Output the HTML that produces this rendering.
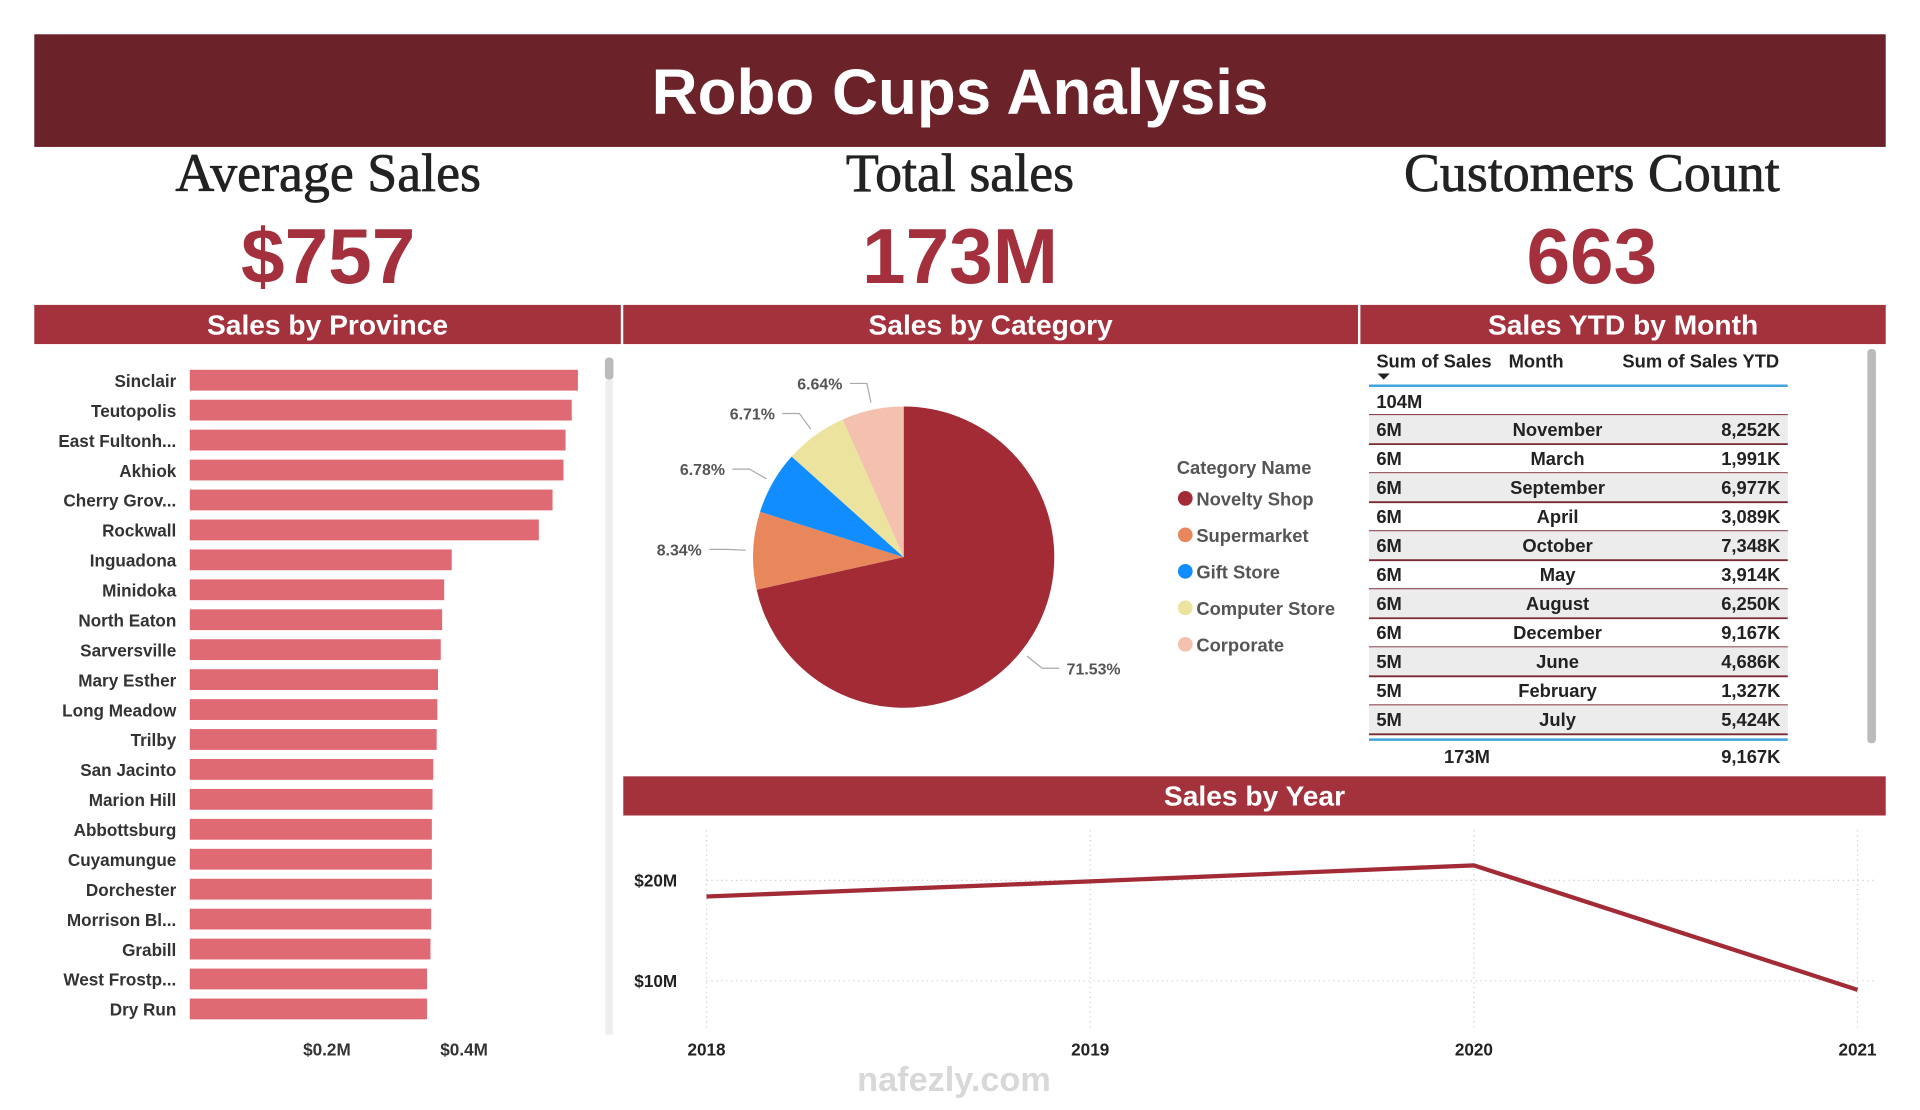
<!DOCTYPE html>
<html><head><meta charset="utf-8"><style>
body{margin:0;background:#fff;width:1920px;height:1110px;overflow:hidden;font-family:"Liberation Sans",sans-serif}
#root{position:absolute;left:0;top:0;width:1568px;height:906px;transform:scale(1.22449);transform-origin:0 0}
.abs{position:absolute}
.hdr{position:absolute;background:#a3323d;color:#fff;font-family:"Liberation Sans Narrow","Liberation Sans",sans-serif;font-weight:bold;font-size:23px;text-align:center;line-height:32px;height:32px}
.kt{position:absolute;font-family:"Liberation Serif",serif;font-size:44px;color:#222;text-align:center;width:500px;-webkit-text-stroke:0.6px #222}
.kv{position:absolute;font-family:"Liberation Sans Narrow","Liberation Sans",sans-serif;font-weight:bold;font-size:64px;color:#a3303c;text-align:center;width:500px}
svg text{font-family:"Liberation Sans",sans-serif}
</style></head><body><div id="root">
<div class="abs" style="left:28px;top:28px;width:1512px;height:92px;background:#6b2229;color:#fff;font-weight:bold;font-size:52px;text-align:center;line-height:96px">Robo Cups Analysis</div>
<div class="kt" style="left:18px;top:116px">Average Sales</div>
<div class="kv" style="left:18px;top:172px">$757</div>
<div class="kt" style="left:534px;top:116px">Total sales</div>
<div class="kv" style="left:534px;top:172px">173M</div>
<div class="kt" style="left:1050px;top:116px">Customers Count</div>
<div class="kv" style="left:1050px;top:172px">663</div>
<div class="hdr" style="left:28px;top:249px;width:479px">Sales by Province</div>
<div class="hdr" style="left:509px;top:249px;width:600px">Sales by Category</div>
<div class="hdr" style="left:1111px;top:249px;width:429px">Sales YTD by Month</div>
<div class="hdr" style="left:509px;top:634px;width:1031px">Sales by Year</div>
<svg id="main" class="abs" style="left:0;top:0" width="1568" height="906"></svg>
<div class="abs" style="left:700px;top:866px;font-size:28px;color:#d8d8d8;font-weight:bold">nafezly.com</div>
</div>
<script>
const provinces=["Sinclair","Teutopolis","East Fultonh...","Akhiok","Cherry Grov...","Rockwall","Inguadona","Minidoka","North Eaton","Sarversville","Mary Esther","Long Meadow","Trilby","San Jacinto","Marion Hill","Abbottsburg","Cuyamungue","Dorchester","Morrison Bl...","Grabill","West Frostp...","Dry Run"];
const provinceSales=[0.566,0.557,0.548,0.545,0.529,0.509,0.382,0.371,0.368,0.366,0.362,0.361,0.360,0.355,0.354,0.353,0.353,0.353,0.352,0.351,0.346,0.346];
const provinceTicks=[0.2,0.4];
const categories=["Novelty Shop","Supermarket","Gift Store","Computer Store","Corporate"];
const categoryShare=[71.53,8.34,6.78,6.71,6.64];
const months=["November","March","September","April","October","May","August","December","June","February","July"];
const monthSales=["6M","6M","6M","6M","6M","6M","6M","6M","5M","5M","5M"];
const monthYTD=["8,252K","1,991K","6,977K","3,089K","7,348K","3,914K","6,250K","9,167K","4,686K","1,327K","5,424K"];
const years=["2018","2019","2020","2021"];
const yearSales=[18.4,19.9,21.5,9.1];
const yearTicks=[10,20];

const NS="http://www.w3.org/2000/svg";
const svg=document.getElementById('main');
function mk(tag,attrs,parent){const e=document.createElementNS(NS,tag);for(const k in attrs)e.setAttribute(k,attrs[k]);(parent||svg).appendChild(e);return e;}
function txt(s,attrs){const e=mk('text',attrs);e.textContent=s;return e;}

const bx=v=>155+v*560, by=i=>302+i*24.45;
provinces.forEach((p,i)=>{
 const t=txt(p,{x:144,y:by(i)+14,'text-anchor':'end','font-size':14,'font-weight':'bold',fill:'#333'});
 
 
 const r=mk('rect',{x:bx(0),y:by(i),width:bx(provinceSales[i])-bx(0),height:17,fill:'#e06a74'});
 
 
});
provinceTicks.forEach(v=>{const t=txt('$'+v+'M',{x:bx(v),y:862,'text-anchor':'middle','font-size':14,'font-weight':'bold',fill:'#333'});
 
 });
const sb=mk('rect',{x:494,y:292,width:7,height:18,rx:3,fill:'#bbb'});


mk('line',{x1:497.5,y1:310,x2:497.5,y2:845,stroke:'#eee','stroke-width':6});

const cx=738,cy=455,R=123;
const colors=['#a22b36','#e8875b','#118dff','#ece49e','#f4c1ae'];
let total=categoryShare.reduce((a,b)=>a+b,0),acc=0;
const pt=(a,r)=>[cx+r*Math.sin(a),cy-r*Math.cos(a)];
categoryShare.forEach((v,i)=>{
 const a0=acc/total*2*Math.PI; acc+=v; const a1=acc/total*2*Math.PI;
 const p0=pt(a0,R),p1=pt(a1,R);
 const s=mk('path',{d:`M${cx},${cy}L${p0[0]},${p0[1]}A${R},${R} 0 ${a1-a0>Math.PI?1:0} 1 ${p1[0]},${p1[1]}Z`,fill:colors[i]});
 
 
 const am=(a0+a1)/2, e=pt(am,R+6), m=pt(am,R+22), right=Math.sin(am)>0;
 const ex=m[0]+(right?14:-14);
 mk('polyline',{points:`${e[0]},${e[1]} ${m[0]},${m[1]} ${ex},${m[1]}`,fill:'none',stroke:'#aaa','stroke-width':1});
 const t=txt(v.toFixed(2)+'%',{x:ex+(right?6:-6),y:m[1]+5,'text-anchor':right?'start':'end','font-size':13,'font-weight':'bold',fill:'#555'});
 
 
});
txt('Category Name',{x:961,y:387,'font-size':15,'font-weight':'bold',fill:'#555'});
categories.forEach((c,i)=>{const y=407+i*29.8;
 mk('circle',{cx:968,cy:y,r:6,fill:colors[i]});
 const t=txt(c,{x:977,y:y+6,'font-size':15,'font-weight':'bold',fill:'#555'});
 
 });

txt('Sum of Sales',{x:1124,y:300,'font-size':15,'font-weight':'bold',fill:'#222'});
txt('Month',{x:1232,y:300,'font-size':15,'font-weight':'bold',fill:'#222'});
txt('Sum of Sales YTD',{x:1453,y:300,'text-anchor':'end','font-size':15,'font-weight':'bold',fill:'#222'});
mk('path',{d:'M1125,305L1135,305L1130,310Z',fill:'#222'});
mk('line',{x1:1118,y1:315,x2:1460,y2:315,stroke:'#41a4e0','stroke-width':2});
txt('104M',{x:1124,y:333,'font-size':15,'font-weight':'bold',fill:'#222'});
mk('line',{x1:1118,y1:339,x2:1460,y2:339,stroke:'#7a2a33','stroke-width':1.5});
months.forEach((m,i)=>{const y=339+i*23.7;
 if(i%2==0)mk('rect',{x:1118,y:y,width:342,height:23.7,fill:'#ececec'});
 mk('line',{x1:1118,y1:y+23.7,x2:1460,y2:y+23.7,stroke:'#7a2a33','stroke-width':1.5});
 const a=txt(monthSales[i],{x:1124,y:y+17,'font-size':15,'font-weight':'bold',fill:'#222'});
 
 
 const b=txt(m,{x:1272,y:y+17,'text-anchor':'middle','font-size':15,'font-weight':'bold',fill:'#222'});
 
 
 const c=txt(monthYTD[i],{x:1454,y:y+17,'text-anchor':'end','font-size':15,'font-weight':'bold',fill:'#222'});
 
 
});
mk('line',{x1:1118,y1:604,x2:1460,y2:604,stroke:'#41a4e0','stroke-width':2});
txt('173M',{x:1198,y:623,'text-anchor':'middle','font-size':15,'font-weight':'bold',fill:'#222'});
txt('9,167K',{x:1454,y:623,'text-anchor':'end','font-size':15,'font-weight':'bold',fill:'#222'});
const sb2=mk('rect',{x:1525,y:285,width:7,height:322,rx:3,fill:'#bbb'});



const lx=i=>577+i*(1517-577)/(years.length-1), ly=v=>801-(v-10)*8.2;
years.forEach((y,i)=>{mk('line',{x1:lx(i),y1:678,x2:lx(i),y2:842,stroke:'#ccc','stroke-dasharray':'1 3'});
 const t=txt(y,{x:lx(i),y:862,'text-anchor':'middle','font-size':14,'font-weight':'bold',fill:'#222'});
 
 });
yearTicks.forEach(v=>{mk('line',{x1:577,y1:ly(v),x2:1530,y2:ly(v),stroke:'#ccc','stroke-dasharray':'1 3'});
 const t=txt('$'+v+'M',{x:553,y:ly(v)+5,'text-anchor':'end','font-size':14,'font-weight':'bold',fill:'#222'});
 
 });
const ln=mk('polyline',{points:yearSales.map((v,i)=>lx(i)+','+ly(v)).join(' '),fill:'none',stroke:'#a22b36','stroke-width':3.5});


</script></body></html>
